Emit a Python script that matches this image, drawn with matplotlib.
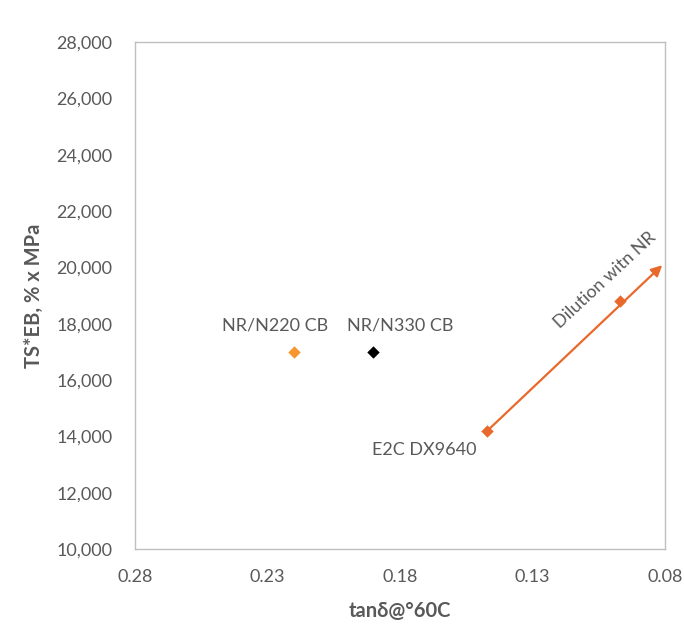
import matplotlib
matplotlib.use("Agg")
import matplotlib.pyplot as plt
from matplotlib.ticker import FuncFormatter

plt.rcParams['font.family'] = ['Lato', 'DejaVu Sans']

# Data
n220_x, n220_y = [0.220], [17000]
n330_x, n330_y = [0.190], [17000]
e2c_x = [0.147, 0.097]
e2c_y = [14200, 18800]
arrow_tip = (0.081, 20080)

x_ticks = [0.28, 0.23, 0.18, 0.13, 0.08]
y_ticks = list(range(10000, 28001, 2000))

fig = plt.figure(figsize=(6.84, 6.29), dpi=100)
ax = fig.add_axes([0.197, 0.127, 0.775, 0.806])

gray = '#595959'
orange_light = '#F7962E'
orange = '#E8692B'

ax.scatter(n220_x, n220_y, marker='D', s=40, color=orange_light, zorder=3, linewidths=0)
ax.scatter(n330_x, n330_y, marker='D', s=40, color='black', zorder=3, linewidths=0)
ax.annotate('', xy=arrow_tip, xytext=(e2c_x[0], e2c_y[0]),
            arrowprops=dict(arrowstyle='-|>', color=orange, lw=1.6,
                            mutation_scale=16, shrinkA=0, shrinkB=0))
ax.scatter(e2c_x, e2c_y, marker='D', s=40, color=orange, zorder=3, linewidths=0)

ax.text(0.2272, 17950, 'NR/N220 CB', fontsize=13, color=gray, ha='center', va='center')
ax.text(0.1800, 17950, 'NR/N330 CB', fontsize=13, color=gray, ha='center', va='center')
ax.text(0.1706, 13520, 'E2C DX9640', fontsize=13, color=gray, ha='center', va='center')
ax.text(0.1025, 19550, 'Dilution witn NR', fontsize=13, color=gray, ha='center', va='center',
        rotation=43)

ax.set_xlim(0.28, 0.08)
ax.set_ylim(10000, 28000)
ax.set_xticks(x_ticks)
ax.set_yticks(y_ticks)
ax.xaxis.set_major_formatter(FuncFormatter(lambda v, p: f'{v:.2f}'))
ax.yaxis.set_major_formatter(FuncFormatter(lambda v, p: f'{int(round(v)):,}'))
ax.tick_params(length=0, labelsize=13, labelcolor=gray)
ax.tick_params(axis='x', pad=14)
ax.tick_params(axis='y', pad=16)

for s in ax.spines.values():
    s.set_color('#BFBFBF')
    s.set_linewidth(1.0)

ax.set_xlabel('tanδ@°60C', fontsize=14.5, color=gray, fontweight='bold', labelpad=12)
ax.set_ylabel('TS*EB, % x MPa', fontsize=14.5, color=gray, fontweight='bold', labelpad=9)

fig.savefig('out.png', dpi=100)
